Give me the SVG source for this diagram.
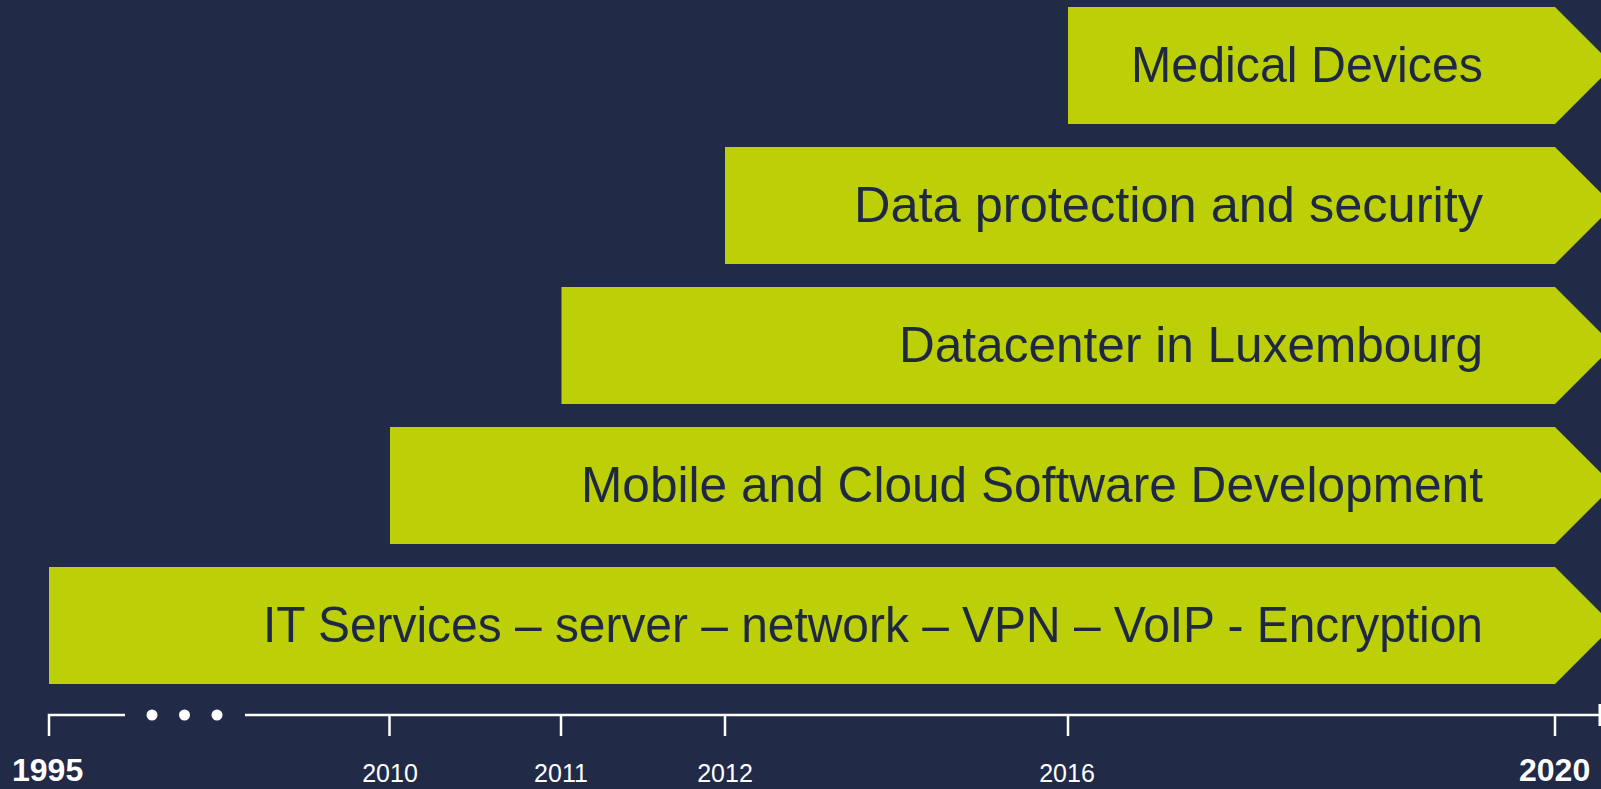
<svg xmlns="http://www.w3.org/2000/svg" width="1601" height="789" viewBox="0 0 1601 789">
<style>
.bar{fill:#BDCF06;}
.lbl{font-family:"Liberation Sans",Arial,sans-serif;font-size:50px;fill:#1E2843;text-anchor:end;}
.ax{stroke:#FFFFFF;stroke-width:2.5;fill:none;}
.yr{font-family:"Liberation Sans",Arial,sans-serif;font-size:25px;fill:#FFFFFF;text-anchor:middle;}
.yrb{font-family:"Liberation Sans",Arial,sans-serif;font-size:32px;font-weight:bold;fill:#FFFFFF;}
</style>
<rect x="0" y="0" width="1601" height="789" fill="#212A47"/>
<g id="medical-devices">
<polygon class="bar" points="1068,7 1555,7 1613.5,65.5 1555,124 1068,124"/>
<text class="lbl" x="1483" y="82" textLength="352" lengthAdjust="spacingAndGlyphs">Medical Devices</text>
</g>
<g id="data-protection">
<polygon class="bar" points="725,147 1555,147 1613.5,205.5 1555,264 725,264"/>
<text class="lbl" x="1483" y="222" textLength="629" lengthAdjust="spacingAndGlyphs">Data protection and security</text>
</g>
<g id="datacenter">
<polygon class="bar" points="561.5,287 1555,287 1613.5,345.5 1555,404 561.5,404"/>
<text class="lbl" x="1483" y="362" textLength="584" lengthAdjust="spacingAndGlyphs">Datacenter in Luxembourg</text>
</g>
<g id="mobile-cloud">
<polygon class="bar" points="390,427 1555,427 1613.5,485.5 1555,544 390,544"/>
<text class="lbl" x="1483" y="502" textLength="902" lengthAdjust="spacingAndGlyphs">Mobile and Cloud Software Development</text>
</g>
<g id="it-services">
<polygon class="bar" points="49,567 1555,567 1613.5,625.5 1555,684 49,684"/>
<text class="lbl" x="1483" y="642" textLength="1220" lengthAdjust="spacingAndGlyphs">IT Services – server – network – VPN – VoIP - Encryption</text>
</g>
<g id="axis">
<path class="ax" d="M49,736 V715 H125"/>
<path class="ax" d="M245,715 H1601"/>
<rect x="1598.5" y="704" width="2.5" height="22" fill="#FFFFFF"/>
<circle cx="152" cy="715" r="5.5" fill="#FFFFFF"/>
<circle cx="184.5" cy="715" r="5.5" fill="#FFFFFF"/>
<circle cx="217" cy="715" r="5.5" fill="#FFFFFF"/>
<path class="ax" d="M389.5,715 V736 M561,715 V736 M725,715 V736 M1068,715 V736 M1555,715 V736"/>
<text class="yrb" x="12" y="781">1995</text>
<text class="yr" x="390" y="782">2010</text>
<text class="yr" x="561" y="782">2011</text>
<text class="yr" x="725" y="782">2012</text>
<text class="yr" x="1067" y="782">2016</text>
<text class="yrb" x="1519" y="781">2020</text>
</g>
</svg>
